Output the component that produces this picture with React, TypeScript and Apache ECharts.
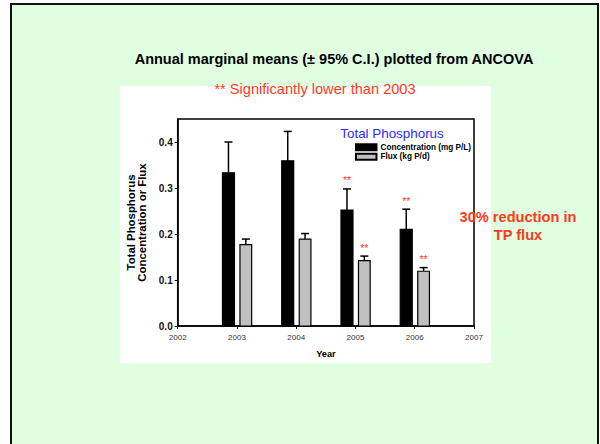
import React, { useEffect, useRef } from "react";
import * as echarts from "echarts";

const years = [2003, 2004, 2005, 2006];
const concMean = [0.333, 0.359, 0.252, 0.21];
const concUpper = [0.4, 0.423, 0.298, 0.254];
const concSig = [0, 0, 1, 1];
const fluxMean = [0.177, 0.189, 0.142, 0.119];
const fluxUpper = [0.189, 0.201, 0.152, 0.127];
const fluxSig = [0, 0, 1, 1];
const yTicks = [0, 0.1, 0.2, 0.3, 0.4];

const FONT = "'Liberation Sans', Arial, sans-serif";
const RED = "#ff3a1a";

function makeRender(offset: number, width: number, fill: string) {
  return (params: any, api: any) => {
    const year = api.value(0);
    const mean = api.value(1);
    const upper = api.value(2);
    const sig = api.value(3);
    const base = api.coord([year, 0]);
    const top = api.coord([year, mean]);
    const eTop = api.coord([year, upper]);
    const x0 = base[0] + offset;
    const cx = x0 + width / 2;
    const children: any[] = [
      {
        type: "line",
        shape: { x1: cx, y1: top[1], x2: cx, y2: eTop[1] },
        style: { stroke: "#000", lineWidth: 1.5 },
      },
      {
        type: "line",
        shape: { x1: cx - 4, y1: eTop[1], x2: cx + 4, y2: eTop[1] },
        style: { stroke: "#000", lineWidth: 1.5 },
      },
      {
        type: "rect",
        shape: { x: x0, y: top[1], width: width, height: base[1] - top[1] },
        style: { fill: fill, stroke: "#000", lineWidth: 1.2 },
      },
    ];
    if (sig) {
      children.push({
        type: "text",
        x: cx,
        y: eTop[1] - 3,
        style: {
          text: "**",
          fill: RED,
          fontSize: 10.5,
          fontFamily: FONT,
          align: "center",
          verticalAlign: "bottom",
        },
      });
    }
    return { type: "group", children };
  };
}

export default function App() {
  const ref = useRef<HTMLDivElement>(null);
  useEffect(() => {
    document.body.style.margin = "0";
    if (!ref.current) return;
    const chart = echarts.init(ref.current, null, { renderer: "svg" });
    const concData = years.map((y, i) => [y, concMean[i], concUpper[i], concSig[i]]);
    const fluxData = years.map((y, i) => [y, fluxMean[i], fluxUpper[i], fluxSig[i]]);
    chart.setOption({
      animation: false,
      textStyle: { fontFamily: FONT },
      graphic: [
        {
          type: "rect",
          z: -20,
          shape: { x: 11, y: 4, width: 587, height: 460 },
          style: { fill: "#e0ffe0", stroke: "#111", lineWidth: 2 },
        },
        {
          type: "rect",
          z: -10,
          shape: { x: 120, y: 86, width: 371, height: 277 },
          style: { fill: "#ffffff" },
        },
        {
          type: "text",
          z: 10,
          x: 392,
          y: 133,
          style: {
            text: "Total Phosphorus",
            fill: "#2a2aff",
            fontSize: 13.4,
            fontFamily: FONT,
            align: "center",
            verticalAlign: "middle",
          },
        },
        {
          type: "text",
          z: 10,
          x: 518,
          y: 226,
          style: {
            text: "30% reduction in\nTP flux",
            fill: RED,
            fontSize: 14.6,
            fontWeight: "bold",
            fontFamily: FONT,
            align: "center",
            verticalAlign: "middle",
            lineHeight: 18,
          },
        },
      ],
      title: [
        {
          text: "Annual marginal means (± 95% C.I.) plotted from ANCOVA",
          left: 329,
          top: 46.5,
          textAlign: "center",
          textStyle: { fontSize: 14.5, fontWeight: "bold", color: "#000", fontFamily: FONT },
        },
        {
          text: "** Significantly lower than 2003",
          left: 310,
          top: 76.5,
          textAlign: "center",
          textStyle: { fontSize: 14.6, fontWeight: "normal", color: RED, fontFamily: FONT },
        },
      ],
      legend: {
        orient: "vertical",
        left: 355,
        top: 142.5,
        itemWidth: 20.5,
        itemHeight: 6,
        itemGap: 0,
        icon: "rect",
        padding: 0,
        textStyle: { fontSize: 8.2, fontWeight: "bold", color: "#000", fontFamily: FONT, padding: [0, 0, 0, -1], lineHeight: 9.5 },
        data: ["Concentration (mg P/L)", "Flux (kg P/d)"],
      },
      grid: {
        left: 177.7,
        right: 126,
        top: 119,
        bottom: 118,
        show: true,
        borderColor: "#000",
        borderWidth: 1.5,
        backgroundColor: "transparent",
      },
      xAxis: {
        type: "value",
        min: 2002,
        max: 2007,
        interval: 1,
        name: "Year",
        nameLocation: "middle",
        nameGap: 23,
        nameTextStyle: { fontSize: 9.2, fontWeight: "bold", color: "#000", fontFamily: FONT },
        splitLine: { show: false },
        axisLine: { lineStyle: { color: "#000", width: 1.5 } },
        axisTick: { length: 3, lineStyle: { color: "#000", width: 1 } },
        axisLabel: { fontSize: 8, color: "#333", margin: 7, fontFamily: FONT, formatter: (v: number) => String(v) },
      },
      yAxis: {
        type: "value",
        min: 0,
        max: 0.45,
        name: "Total Phosphorus\nConcentration or Flux",
        nameLocation: "middle",
        nameRotate: 90,
        nameGap: 30,
        nameTextStyle: { fontSize: 11.4, fontWeight: "bold", color: "#000", fontFamily: FONT, lineHeight: 11.4 },
        splitLine: { show: false },
        axisLine: { lineStyle: { color: "#000", width: 1.5 } },
        axisTick: { length: 3, customValues: yTicks, lineStyle: { color: "#000", width: 1 } },
        axisLabel: {
          fontSize: 10,
          fontWeight: "bold",
          color: "#111",
          margin: 5,
          fontFamily: FONT,
          customValues: yTicks,
          formatter: (v: number) => v.toFixed(1),
        },
      },
      series: [
        {
          name: "Concentration (mg P/L)",
          type: "custom",
          renderItem: makeRender(-14.5, 12, "#000000"),
          itemStyle: { color: "#000000", borderColor: "#000", borderWidth: 1 },
          encode: { x: 0, y: 1 },
          data: concData,
          z: 5,
        },
        {
          name: "Flux (kg P/d)",
          type: "custom",
          renderItem: makeRender(3, 11.7, "#c0c0c0"),
          itemStyle: { color: "#c0c0c0", borderColor: "#000", borderWidth: 1 },
          encode: { x: 0, y: 1 },
          data: fluxData,
          z: 5,
        },
      ],
    });
    return () => chart.dispose();
  }, []);
  return <div ref={ref} style={{ width: 600, height: 444 }} />;
}
